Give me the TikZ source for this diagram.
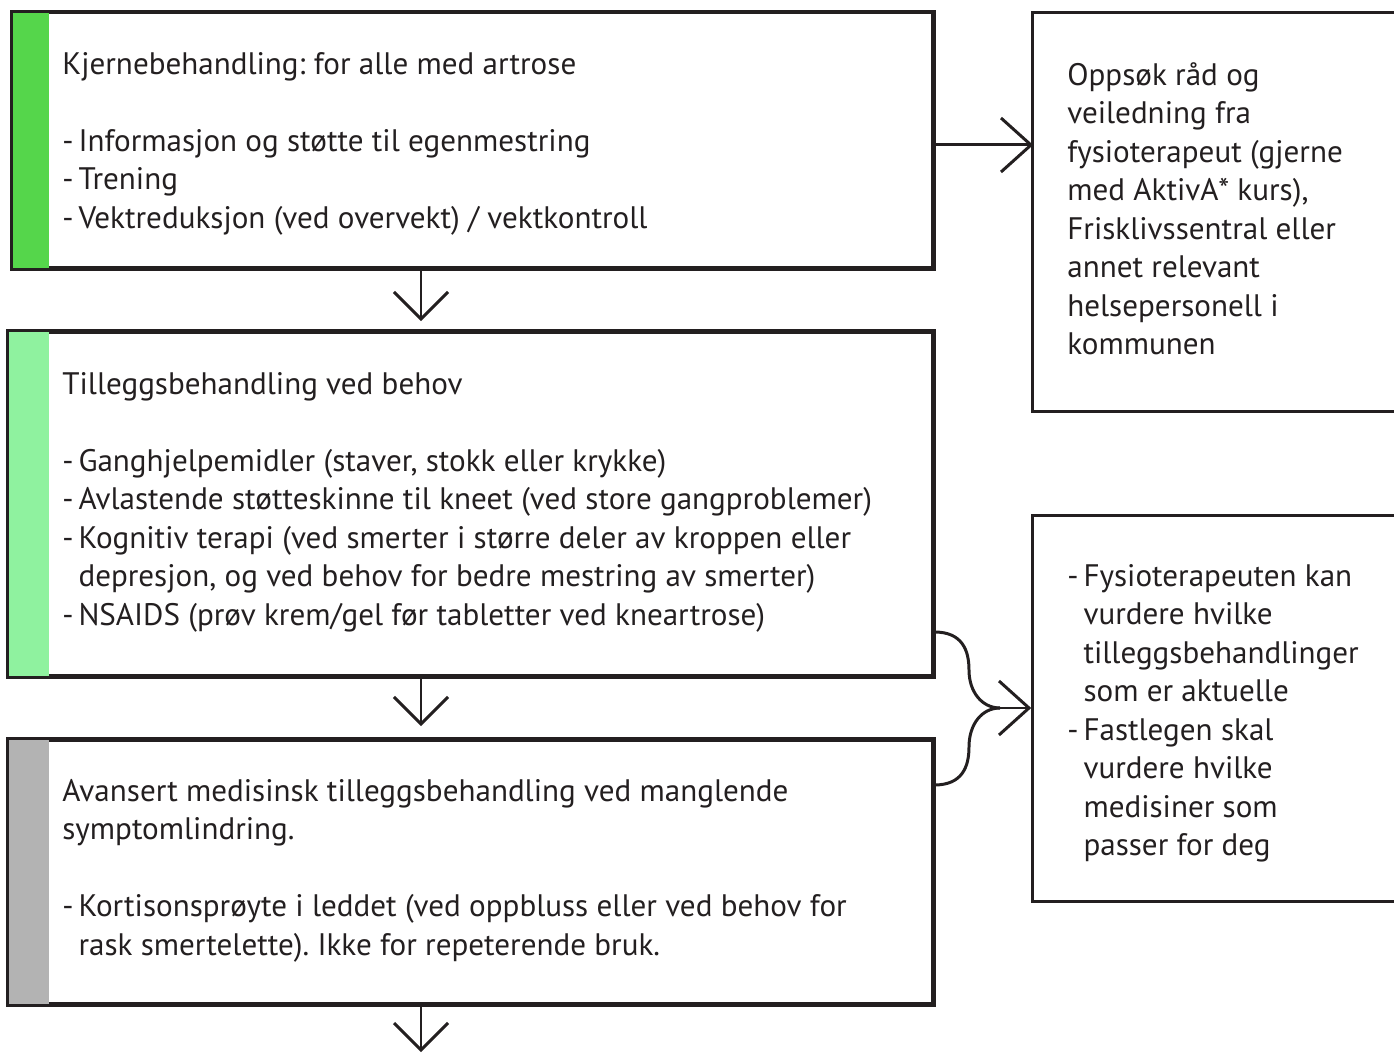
\documentclass[tikz,border=0pt]{standalone}
\usepackage{fontspec}
\setmainfont{PT Sans}
\definecolor{ink}{HTML}{231F20}
\definecolor{cgreen}{HTML}{55D64B}
\definecolor{clight}{HTML}{8FF29F}
\definecolor{cgray}{HTML}{B3B3B3}
\frenchspacing
\newcommand\dsh{-\hspace{0.16em}}
\newcommand\ind{\phantom{\dsh}}
\begin{document}
\begin{tikzpicture}[x=0.02cm,y=-0.02cm,
  box/.style={draw=ink, line width=1.7pt, inner sep=0pt},
  txt/.style={anchor=north west, inner sep=0pt, align=left, text=ink,
    font=\fontsize{17.7}{21.9}\selectfont},
  conn/.style={draw=ink, line width=1.7pt}]
\useasboundingbox (0,0) rectangle (1394,1053);
% boxes
\node[box, minimum width=18.41cm, minimum height=5.11cm] (b1) at (472.75,140.25) {};
\node[box, minimum width=18.48cm, minimum height=6.88cm] (b2) at (471,504) {};
\node[box, minimum width=18.48cm, minimum height=5.28cm] (b3) at (471,872) {};
\node[box, minimum width=7.76cm, minimum height=7.99cm] (r1) at (1226,212.25) {};
\node[box, minimum width=7.76cm, minimum height=7.74cm] (r2) at (1226,708.5) {};
% colour bars
\fill[cgreen] (b1.north west) rectangle (b1.south west -| 49,0);
\fill[clight] (b2.north west) rectangle (b2.south west -| 49,0);
\fill[cgray] (b3.north west) rectangle (b3.south west -| 49,0);
\draw[box] (b1.north west) rectangle (b1.south east);
\draw[box] (b2.north west) rectangle (b2.south east);
\draw[box] (b3.north west) rectangle (b3.south east);
% texts
\node[txt] (t1) at (62,52) {Kjernebehandling: for alle med artrose\\[21.9pt]
\dsh Informasjon og støtte til egenmestring\\
\dsh Trening\\
\dsh Vektreduksjon (ved overvekt) / vektkontroll};
\node[txt] (t2) at (62,372) {Tilleggsbehandling ved behov\\[21.9pt]
\dsh Ganghjelpemidler (staver, stokk eller krykke)\\
\dsh Avlastende støtteskinne til kneet (ved store gangproblemer)\\
\dsh Kognitiv terapi (ved smerter i større deler av kroppen eller\\
\ind depresjon, og ved behov for bedre mestring av smerter)\\
\dsh NSAIDS (prøv krem/gel før tabletter ved kneartrose)};
\node[txt] (t3) at (62,779) {Avansert medisinsk tilleggsbehandling ved manglende\\
symptomlindring.\\[21.9pt]
\dsh Kortisonsprøyte i leddet (ved oppbluss eller ved behov for\\
\ind rask smertelette). Ikke for repeterende bruk.};
\node[txt] (t4) at (1067,62) {Oppsøk råd og\\
veiledning fra\\
fysioterapeut (gjerne\\
med AktivA* kurs),\\
Frisklivssentral eller\\
annet relevant\\
helsepersonell i\\
kommunen};
\node[txt] (t5) at (1067,564) {\dsh Fysioterapeuten kan\\
\ind vurdere hvilke\\
\ind tilleggsbehandlinger\\
\ind som er aktuelle\\
\dsh Fastlegen skal\\
\ind vurdere hvilke\\
\ind medisiner som\\
\ind passer for deg};
% down arrows
\coordinate (d1) at (421,319);
\coordinate (d2) at (421,724);
\coordinate (d3) at (421,1050);
\draw[conn] (b1.south -| d1) -- (d1);
\draw[conn] (d1) ++(-27,-27) -- (d1) -- ++(27,-27);
\draw[conn] (b2.south -| d2) -- (d2);
\draw[conn] (d2) ++(-27,-27) -- (d2) -- ++(27,-27);
\draw[conn] (b3.south -| d3) -- (d3);
\draw[conn] (d3) ++(-27,-27) -- (d3) -- ++(27,-27);
% right arrow
\coordinate (e1) at (1031,145);
\draw[conn] (b1.east |- e1) -- (e1);
\draw[conn] (e1) ++(-30,-27) -- (e1) -- ++(-30,27);
% brace
\coordinate (bs1) at (b2.east |- 0,632);
\coordinate (bs2) at (b3.east |- 0,785);
\coordinate (bj) at (1000,708);
\coordinate (e2) at (1029,708);
\draw[conn] (bs1) .. controls (962,632) and (969,650) .. (969,670)
  .. controls (969,692) and (982,708) .. (bj);
\draw[conn] (bs2) .. controls (962,785) and (969,767) .. (969,747)
  .. controls (969,724) and (982,708) .. (bj);
\draw[conn] (bj) -- (e2);
\draw[conn] (e2) ++(-30,-27) -- (e2) -- ++(-30,27);
\end{tikzpicture}
\end{document}
